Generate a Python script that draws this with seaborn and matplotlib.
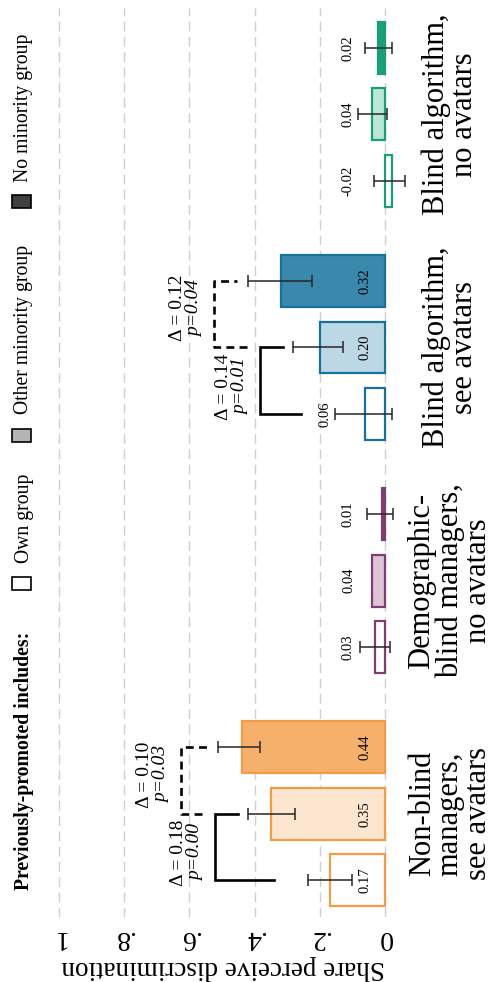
import numpy as np
import pandas as pd
import matplotlib
matplotlib.use("Agg")
import matplotlib.pyplot as plt
import seaborn as sns
from matplotlib.patches import Rectangle

plt.rcParams["font.family"] = ["Liberation Serif", "DejaVu Serif"]

# ---- data -------------------------------------------------------------
groups = ["Non-blind\nmanagers,\nsee avatars",
          "Demographic-\nblind managers,\nno avatars",
          "Blind algorithm,\nsee avatars",
          "Blind algorithm,\nno avatars"]
promoted = ["Own group", "Other minority group", "No minority group"]

# share perceiving discrimination (rows: condition, cols: previously-promoted)
share = [[0.17, 0.35, 0.44],
         [0.03, 0.04, 0.01],
         [0.06, 0.20, 0.32],
         [-0.02, 0.04, 0.02]]
ci_low = [[0.101, 0.276, 0.383],
          [-0.015, np.nan, -0.025],
          [-0.021, 0.129, 0.224],
          [-0.061, -0.006, -0.021]]
ci_high = [[0.236, 0.420, 0.512],
           [0.077, np.nan, 0.055],
           [0.153, 0.282, 0.420],
           [0.034, 0.083, 0.061]]

# pairwise comparisons shown with brackets
comp_groups = [0, 2]
delta_own_other = [0.18, 0.14]
p_own_other = ["0.00", "0.01"]
delta_other_none = [0.10, 0.12]
p_other_none = ["0.03", "0.04"]

xticks = [0, 0.2, 0.4, 0.6, 0.8, 1]
xtick_labels = ["0", ".2", ".4", ".6", ".8", "1"]

edge_colors = ["#F39C47", "#7D3E72", "#19709A", "#1A9E77"]
light_fills = ["#FDE6CF", "#DCC3D6", "#BCD8E5", "#BCE6D7"]
full_fills = ["#F5B16B", "#7D3E72", "#3A88AC", "#1E9F79"]
legend_fills = ["white", "#b4b4b4", "#404040"]

df = pd.DataFrame({
    "group": np.repeat(groups, len(promoted)),
    "promoted": promoted * len(groups),
    "share": np.ravel(share),
})

# ---- figure / axes ----------------------------------------------------
W, H = 497, 982
fig = plt.figure(figsize=(W / 100, H / 100), dpi=100)


def fx(px):
    return px / W


def fy(py):
    return 1 - py / H


ax_l, ax_r, ax_t, ax_b = 40, 410, 8, 917
ax = fig.add_axes([fx(ax_l), fy(ax_b), (ax_r - ax_l) / W, (ax_b - ax_t) / H])

bar_width = 0.856
sns.barplot(data=df, x="share", y="group", hue="promoted", order=groups,
            hue_order=promoted, orient="h", width=bar_width, gap=0.22,
            errorbar=None, legend=False, ax=ax)

slot = bar_width / len(promoted)
centers = {}
for cont in ax.containers:
    for bar in cont:
        yc = bar.get_y() + bar.get_height() / 2
        g = int(round(yc))
        h = int(round((yc - g) / slot)) + 1
        centers[(g, h)] = yc
        fill = "white" if h == 0 else (light_fills[g] if h == 1 else full_fills[g])
        bar.set_facecolor(fill)
        bar.set_edgecolor(edge_colors[g])
        bar.set_linewidth(1.6)
        bar.set_zorder(2)

# error bars and value labels
for (g, h), yc in centers.items():
    v, lo, hi = share[g][h], ci_low[g][h], ci_high[g][h]
    if not np.isnan(lo):
        ax.errorbar(v, yc, xerr=[[v - lo], [hi - v]], fmt="none",
                    ecolor="#262626", elinewidth=1.1, capsize=4.3,
                    capthick=1.1, zorder=4)
    if v >= 0.15:
        pos = 0.06
    else:
        pos = 0.11 if np.isnan(hi) else max(hi + 0.03, 0.113)
    ax.text(pos, yc, f"{v:.2f}", rotation=90, ha="center", va="center",
            fontsize=10.5, zorder=5)

# comparison brackets
for k, g in enumerate(comp_groups):
    hi = ci_high[g]
    y0, y1, y2 = centers[(g, 0)], centers[(g, 1)], centers[(g, 2)]
    solid_top = hi[1] + 0.10
    ax.plot([hi[0] + 0.105, solid_top, solid_top, hi[1] + 0.03],
            [y0, y0, y1, y1], color="black", lw=1.9, zorder=3,
            solid_joinstyle="miter")
    dashed_top = max(hi[2], solid_top) + 0.105
    ax.plot([solid_top + 0.04, dashed_top, dashed_top, hi[2] + 0.035],
            [y1, y1, y2, y2], color="black", lw=1.9, ls=(0, (3, 2)),
            zorder=3)
    for top, ya, yb, d, p, dy in [
            (solid_top, y0, y1, delta_own_other[k], p_own_other[k], -6),
            (dashed_top, y1, y2, delta_other_none[k], p_other_none[k], 6)]:
        ym = (ya + yb) / 2
        ax.annotate(f"Δ = {d:.2f}", xy=(top, ym), xytext=(-28, dy),
                    textcoords="offset pixels", rotation=90, ha="right",
                    va="center", fontsize=14)
        ax.annotate(f"p={p}", xy=(top, ym), xytext=(-11, dy),
                    textcoords="offset pixels", rotation=90, ha="right",
                    va="center", fontsize=14, fontstyle="italic")

# axes styling
px_per_unit = 326
ax.set_xlim(1 + (59 - ax_l) / px_per_unit, -(ax_r - 385) / px_per_unit)
ax.set_ylim(-0.443, 3.456)
for s in ax.spines.values():
    s.set_visible(False)
ax.set_axisbelow(True)
ax.xaxis.grid(True, linestyle=(0, (7, 4)), color="#cfcfcf", lw=1.0)
ax.yaxis.grid(False)

ax.set_xticks(xticks)
ax.set_xticklabels(xtick_labels, rotation=180, fontsize=20)
ax.tick_params(axis="x", length=0, pad=6)

ax.yaxis.tick_right()
ax.set_yticks(range(len(groups)))
ax.set_yticklabels(groups, rotation=90, ha="center", va="center",
                   multialignment="center", fontsize=22, linespacing=0.96)
ax.tick_params(axis="y", length=0, pad=29)
ax.set_ylabel("")
ax.set_xlabel("Share perceive discrimination", rotation=180, fontsize=19.5)
ax.xaxis.set_label_coords((223 - ax_l) / (ax_r - ax_l), -0.042)

# legend, drawn along the left edge
fig.text(fx(24), fy(761), "Previously-promoted includes:", rotation=90,
         ha="center", va="center", fontsize=14.2, fontweight="bold")
key_centers = [583.5, 435, 201.5]
label_centers = [518.5, 329, 107.5]
for fill, ky, ly, name in zip(legend_fills, key_centers, label_centers, promoted):
    fig.add_artist(Rectangle((fx(12), fy(ky + 6.5)), 19 / W, 13 / H,
                             transform=fig.transFigure, facecolor=fill,
                             edgecolor="black", lw=1.2))
    fig.text(fx(24), fy(ly), name, rotation=90, ha="center", va="center",
             fontsize=14.2)

fig.savefig("out.png", dpi=100)
